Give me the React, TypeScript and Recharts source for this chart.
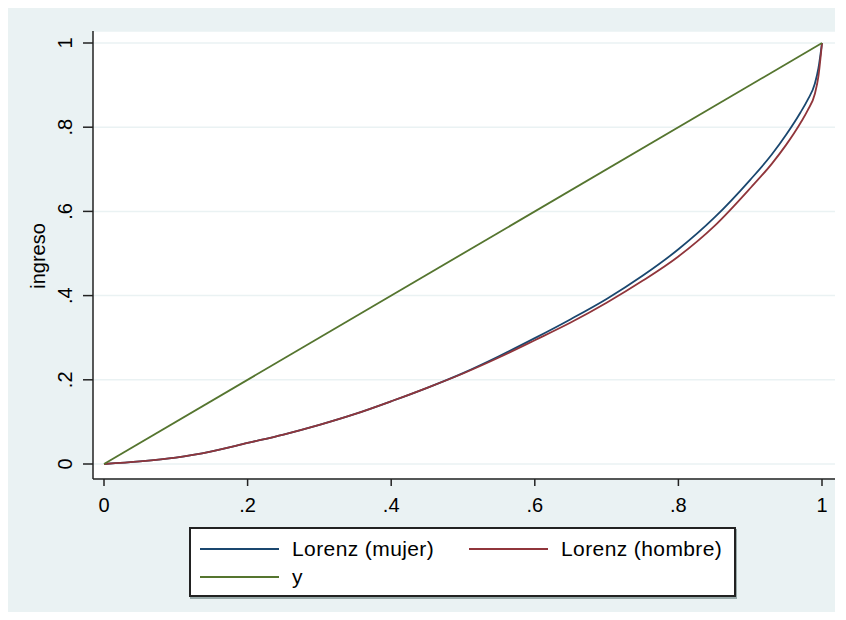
import React from "react";
import { CartesianGrid, Legend, Line, LineChart, XAxis, YAxis } from "recharts";

// cumulative population share (x) shared by both Lorenz curves
const populationShare = [
  0, 0.05, 0.1, 0.15, 0.2, 0.25, 0.3, 0.35, 0.4, 0.45, 0.5, 0.55, 0.6, 0.65, 0.7,
  0.75, 0.8, 0.85, 0.9, 0.93, 0.95, 0.97, 0.98, 0.99, 0.995, 1
];
const lorenzMujer = [
  0, 0.006, 0.015, 0.03, 0.05, 0.07, 0.093, 0.119, 0.149, 0.181, 0.216, 0.256, 0.299,
  0.344, 0.392, 0.447, 0.51, 0.585, 0.675, 0.735, 0.782, 0.835, 0.865, 0.903, 0.94, 1
];
const lorenzHombre = [
  0, 0.006, 0.015, 0.03, 0.05, 0.07, 0.093, 0.119, 0.149, 0.181, 0.215, 0.253, 0.294,
  0.336, 0.383, 0.435, 0.493, 0.565, 0.655, 0.713, 0.758, 0.81, 0.84, 0.879, 0.921, 1
];
// equality line y
const equalityX = [0, 1];
const equalityY = [0, 1];

const tickValues = [0, 0.2, 0.4, 0.6, 0.8, 1];
const tickLabels = ["0", ".2", ".4", ".6", ".8", "1"];

const seriesNames = ["Lorenz (mujer)", "Lorenz (hombre)", "y"];
const seriesColors = ["#1a476f", "#90353b", "#55752f"];

const rows = populationShare.map((p, i) => ({
  p,
  mujer: lorenzMujer[i],
  hombre: lorenzHombre[i]
}));
const equalityRows = equalityX.map((p, i) => ({ p, y: equalityY[i] }));

const FONT = "'Liberation Sans', Arial, sans-serif";
const BG = "#eaf2f3";

const labelFor = (v: number) => tickLabels[tickValues.findIndex((t) => Math.abs(t - v) < 1e-9)] ?? String(v);

function XTick({ x, payload }: any) {
  return (
    <text x={x} y={504} textAnchor="middle" fontFamily={FONT} fontSize={20} fill="#000">
      {labelFor(payload.value)}
    </text>
  );
}

function YTick({ y, payload }: any) {
  return (
    <text
      x={64}
      y={y}
      transform={`rotate(-90 64 ${y})`}
      textAnchor="middle"
      fontFamily={FONT}
      fontSize={20}
      fill="#000"
    >
      {labelFor(payload.value)}
    </text>
  );
}

function LegendBox() {
  const item = (i: number, left: number, top: number) => (
    <div key={i} style={{ position: "absolute", left, top, height: 24, width: 300 }}>
      <div
        style={{
          position: "absolute",
          left: 0,
          top: 11,
          width: 79,
          height: 2,
          background: seriesColors[i]
        }}
      />
      <span
        style={{
          position: "absolute",
          left: 92,
          top: 0,
          lineHeight: "24px",
          fontFamily: FONT,
          fontSize: 21,
          letterSpacing: 0.4,
          color: "#000",
          whiteSpace: "nowrap"
        }}
      >
        {seriesNames[i]}
      </span>
    </div>
  );
  return (
    <div
      style={{
        position: "relative",
        width: 547,
        height: 70,
        boxSizing: "border-box",
        border: "2px solid #222",
        background: "#fff",
        boxShadow: "1px 2px 0 #9aa"
      }}
    >
      {item(0, 9, 8)}
      {item(1, 278, 8)}
      {item(2, 9, 36)}
    </div>
  );
}

export default function App() {
  return (
    <div style={{ width: 827, height: 604, background: BG }}>
      <LineChart
        width={827}
        height={604}
        data={rows}
        margin={{ top: 23, right: 0, left: 0, bottom: 93 }}
      >
        <CartesianGrid vertical={false} stroke={BG} strokeWidth={1.5} fill="#fff" fillOpacity={1} />
        <XAxis
          type="number"
          dataKey="p"
          domain={[0, 1]}
          ticks={tickValues}
          padding={{ left: 11, right: 13 }}
          tickSize={7}
          height={40}
          stroke="#222"
          strokeWidth={1.5}
          tick={<XTick />}
        />
        <YAxis
          type="number"
          domain={[0, 1]}
          ticks={tickValues}
          padding={{ top: 12, bottom: 15 }}
          tickSize={10}
          width={85}
          stroke="#222"
          strokeWidth={1.5}
          tick={<YTick />}
          label={{
            value: "ingreso",
            content: () => (
              <text
                x={37}
                y={248}
                transform="rotate(-90 37 248)"
                textAnchor="middle"
                fontFamily={FONT}
                fontSize={20}
                fill="#000"
              >
                ingreso
              </text>
            )
          }}
        />
        <Legend
          layout="horizontal"
          verticalAlign="middle"
          align="center"
          wrapperStyle={{ position: "absolute", left: 181, top: 519, width: 547, height: 70 }}
          content={() => <LegendBox />}
        />
        <Line
          dataKey="mujer"
          name={seriesNames[0]}
          stroke={seriesColors[0]}
          strokeWidth={1.8}
          dot={false}
          type="monotone"
          isAnimationActive={false}
        />
        <Line
          dataKey="hombre"
          name={seriesNames[1]}
          stroke={seriesColors[1]}
          strokeWidth={1.8}
          dot={false}
          type="monotone"
          isAnimationActive={false}
        />
        <Line
          data={equalityRows}
          dataKey="y"
          name={seriesNames[2]}
          stroke={seriesColors[2]}
          strokeWidth={1.8}
          dot={false}
          type="linear"
          isAnimationActive={false}
        />
      </LineChart>
    </div>
  );
}
